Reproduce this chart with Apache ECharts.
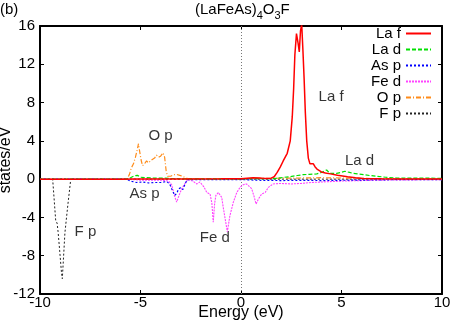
<!DOCTYPE html>
<html>
<head>
<meta charset="utf-8">
<script src="https://cdn.jsdelivr.net/npm/echarts@6/dist/echarts.min.js"></script>
<style>html,body{margin:0;padding:0;background:#fff}#c{width:458px;height:321px}</style>
</head>
<body>
<div id="c"></div>
<script>
// ---- data (energy eV, states/eV) ----
const xTicks = [-10, -5, 0, 5, 10];
const yTicks = [-12, -8, -4, 0, 4, 8, 12, 16];
const seriesNames = ['La f', 'La d', 'As p', 'Fe d', 'O p', 'F p'];

const laF = [[-10,0],[-6,0],[-5.3,0.02],[-3,0.02],[-1,0.03],[0,0.05],[0.3,0.1],[0.6,0.15],[0.9,0.13],[1.2,0.08],[1.5,0.1],[1.65,0.25],[1.8,0.7],[1.95,1.25],[2.1,1.9],[2.3,2.7],[2.45,4.0],[2.55,6.5],[2.62,9.5],[2.68,13],[2.76,15.2],[2.84,14.2],[2.9,13.3],[2.96,15.5],[3.02,16.2],[3.08,13.5],[3.14,10.5],[3.2,7],[3.27,4],[3.35,2.2],[3.43,1.6],[3.52,1.4],[3.6,1.6],[3.68,1.3],[3.78,1.05],[4.0,0.75],[4.2,0.65],[4.45,0.55],[4.8,0.4],[5.3,0.26],[5.7,0.15],[6.1,0.07],[7,0.04],[8,0.02],[10,0.02]];

const laD = [[-10,0],[-5.7,0],[-5.5,0.15],[-5.3,0.35],[-5.15,0.4],[-5.0,0.2],[-4.7,0.15],[-4.3,0.1],[-3.8,0.1],[-3.3,0.05],[-2.5,0.02],[0,0.03],[0.5,0.05],[1.0,0.05],[1.5,0.05],[1.8,0.08],[2.1,0.18],[2.44,0.26],[2.8,0.38],[3.1,0.47],[3.4,0.5],[3.77,0.55],[4.0,0.7],[4.26,0.96],[4.35,0.8],[4.43,0.6],[4.76,0.6],[5.0,0.72],[5.17,0.82],[5.4,0.7],[5.59,0.6],[5.8,0.55],[6.09,0.47],[6.4,0.38],[6.75,0.3],[7.2,0.2],[7.75,0.12],[8.5,0.1],[9.4,0.1],[10,0.08]];

const asP = [[-10,0],[-5.7,0],[-5.5,-0.2],[-5.2,-0.35],[-4.9,-0.3],[-4.6,-0.4],[-4.3,-0.35],[-4,-0.35],[-3.7,-0.25],[-3.55,-0.5],[-3.45,-1.0],[-3.3,-1.7],[-3.2,-1.5],[-3.1,-1.0],[-3.0,-0.9],[-2.9,-1.1],[-2.8,-0.6],[-2.68,-0.05],[-2.3,-0.05],[-1,-0.05],[0,-0.05],[1,-0.12],[2,-0.15],[3,-0.12],[4,-0.15],[5,-0.12],[6,-0.1],[8,-0.05],[10,-0.05]];

const feD = [[-10,0],[-5.7,0],[-5,-0.1],[-4,-0.1],[-3.6,-0.2],[-3.45,-0.6],[-3.3,-1.8],[-3.2,-2.4],[-3.1,-1.8],[-2.95,-1.0],[-2.8,-0.5],[-2.65,-0.05],[-2.4,-0.2],[-2.2,-0.5],[-2.04,-0.3],[-1.85,-0.8],[-1.7,-1.4],[-1.54,-1.55],[-1.45,-2.5],[-1.38,-4.5],[-1.31,-2.5],[-1.25,-1.7],[-1.13,-1.4],[-0.96,-1.9],[-0.88,-3.0],[-0.8,-4.0],[-0.68,-5.5],[-0.55,-3.8],[-0.38,-2.4],[-0.21,-1.4],[-0.05,-0.86],[0.11,-0.58],[0.28,-0.5],[0.53,-1.0],[0.65,-1.8],[0.75,-2.6],[0.86,-2.1],[1.03,-1.55],[1.2,-1.4],[1.36,-0.86],[1.6,-0.5],[1.94,-0.45],[2.5,-0.5],[3,-0.45],[3.5,-0.35],[4,-0.3],[5,-0.2],[6,-0.15],[7,-0.1],[10,-0.05]];

const oP = [[-10,0],[-5.67,0],[-5.55,0.5],[-5.45,1.2],[-5.35,1.6],[-5.25,2.3],[-5.15,3.2],[-5.1,3.7],[-5.05,3.0],[-4.97,2.0],[-4.9,1.4],[-4.8,1.6],[-4.7,1.9],[-4.6,1.7],[-4.45,2.0],[-4.3,2.2],[-4.2,2.5],[-4.1,2.3],[-4.0,2.4],[-3.88,2.75],[-3.8,2.3],[-3.72,0.8],[-3.65,0.3],[-3.5,0.3],[-3.35,0.45],[-3.2,0.5],[-3.05,0.4],[-2.9,0.3],[-2.75,0.1],[-2.6,0.05],[-1,0.03],[0,0.05],[1,0.08],[2,0.1],[3,0.12],[4,0.15],[5,0.12],[6,0.08],[7,0.05],[10,0.03]];

const fP = [[-10,0],[-9.37,0],[-9.3,-2],[-9.22,-4.3],[-9.15,-4.6],[-9.1,-5.5],[-9.02,-7.5],[-8.93,-9.8],[-8.89,-10.4],[-8.83,-8.2],[-8.76,-5.6],[-8.62,-2.8],[-8.47,0],[10,0]];

const annotations = [[4.48,8.6,'La f'],[5.9,1.92,'La d'],[-4.0,4.5,'O p'],[-4.8,-1.5,'As p'],[-7.74,-5.5,'F p'],[-1.3,-6.1,'Fe d']];

const FONT = 'Liberation Sans, Arial, Helvetica, sans-serif';
const chart = echarts.init(document.getElementById('c'), null, {renderer:'canvas'});

const styles = [
  {color:'#ff0000', type:'solid', width:1.5},
  {color:'#00e000', type:[4,2], width:1.2},
  {color:'#0000ff', type:[2,2], width:1.2},
  {color:'#ff44ff', type:[2,1], width:1.1},
  {color:'#ff8c1a', type:[5,2,1,2], width:1.2},
  {color:'#222222', type:[2,2], width:1}
];
const datas = [laF, laD, asP, feD, oP, fP];

const series = datas.map((d,i)=>({
  name: seriesNames[i], type:'line', data:d, symbol:'none', showSymbol:false,
  clip:true, animation:false, z: 10-i,
  lineStyle: styles[i], itemStyle:{color: styles[i].color}
}));
series[5].markLine = {silent:true, symbol:'none', label:{show:false},
  lineStyle:{type:[1,2], color:'#777', width:1}, data:[{xAxis:0}]};
series.push({
  name:'labels', type:'scatter', symbolSize:0, silent:true, animation:false,
  data: annotations,
  label:{show:true, position:'inside', formatter:p=>p.value[2], color:'#000', fontSize:15, fontFamily:FONT}
});

const axBase = {
  axisLine:{show:true, onZero:false, lineStyle:{color:'#000', width:2}},
  axisTick:{show:true, inside:true, length:4, lineStyle:{color:'#000', width:1}},
  splitLine:{show:false}
};

chart.setOption({
  backgroundColor:'#fff',
  animation:false,
  textStyle:{fontFamily:FONT},
  title:[
    {text:'(b)', left:0, top:2, padding:0, textStyle:{fontSize:15, fontWeight:'normal', color:'#000', fontFamily:FONT}},
    {text:'{a|(LaFeAs)}{s|4}{a|O}{s|3}{a|F}', left:195, top:2, padding:0,
     textStyle:{fontSize:15, fontWeight:'normal', color:'#000', fontFamily:FONT,
       rich:{a:{fontSize:15, color:'#000', fontFamily:FONT, lineHeight:18, verticalAlign:'top'},
             s:{fontSize:11, color:'#000', fontFamily:FONT, lineHeight:11, padding:[8,0,0,0], verticalAlign:'top'}}}}
  ],
  legend:{
    data: seriesNames, orient:'vertical', right:26, top:26, padding:0, align:'right',
    itemWidth:25, itemHeight:12, itemGap:1, selectedMode:false,
    itemStyle:{opacity:0},
    textStyle:{fontSize:15, color:'#000', fontFamily:FONT, lineHeight:12}
  },
  grid:{left:40, right:16, top:26, bottom:27, containLabel:false, outerBoundsMode:'none'},
  xAxis:[
    Object.assign({}, axBase, {type:'value', min:-10, max:10, interval:5, position:'bottom',
      name:'Energy (eV)', nameLocation:'middle', nameGap:11, nameMoveOverlap:false,
      nameTextStyle:{fontSize:16, color:'#000', fontFamily:FONT},
      axisLabel:{show:true, margin:1, fontSize:15, color:'#000', fontFamily:FONT, customValues:xTicks}}),
    Object.assign({}, axBase, {type:'value', min:-10, max:10, interval:5, position:'top', axisLabel:{show:false}})
  ],
  yAxis:[
    Object.assign({}, axBase, {type:'value', min:-12, max:16, interval:4, position:'left',
      name:'states/eV', nameLocation:'middle', nameGap:26, nameMoveOverlap:false,
      nameTextStyle:{fontSize:16, color:'#000', fontFamily:FONT},
      axisLabel:{show:true, margin:5, fontSize:15, color:'#000', fontFamily:FONT, customValues:yTicks}}),
    Object.assign({}, axBase, {type:'value', min:-12, max:16, interval:4, position:'right', axisLabel:{show:false}})
  ],
  series: series
});
</script>
</body>
</html>
